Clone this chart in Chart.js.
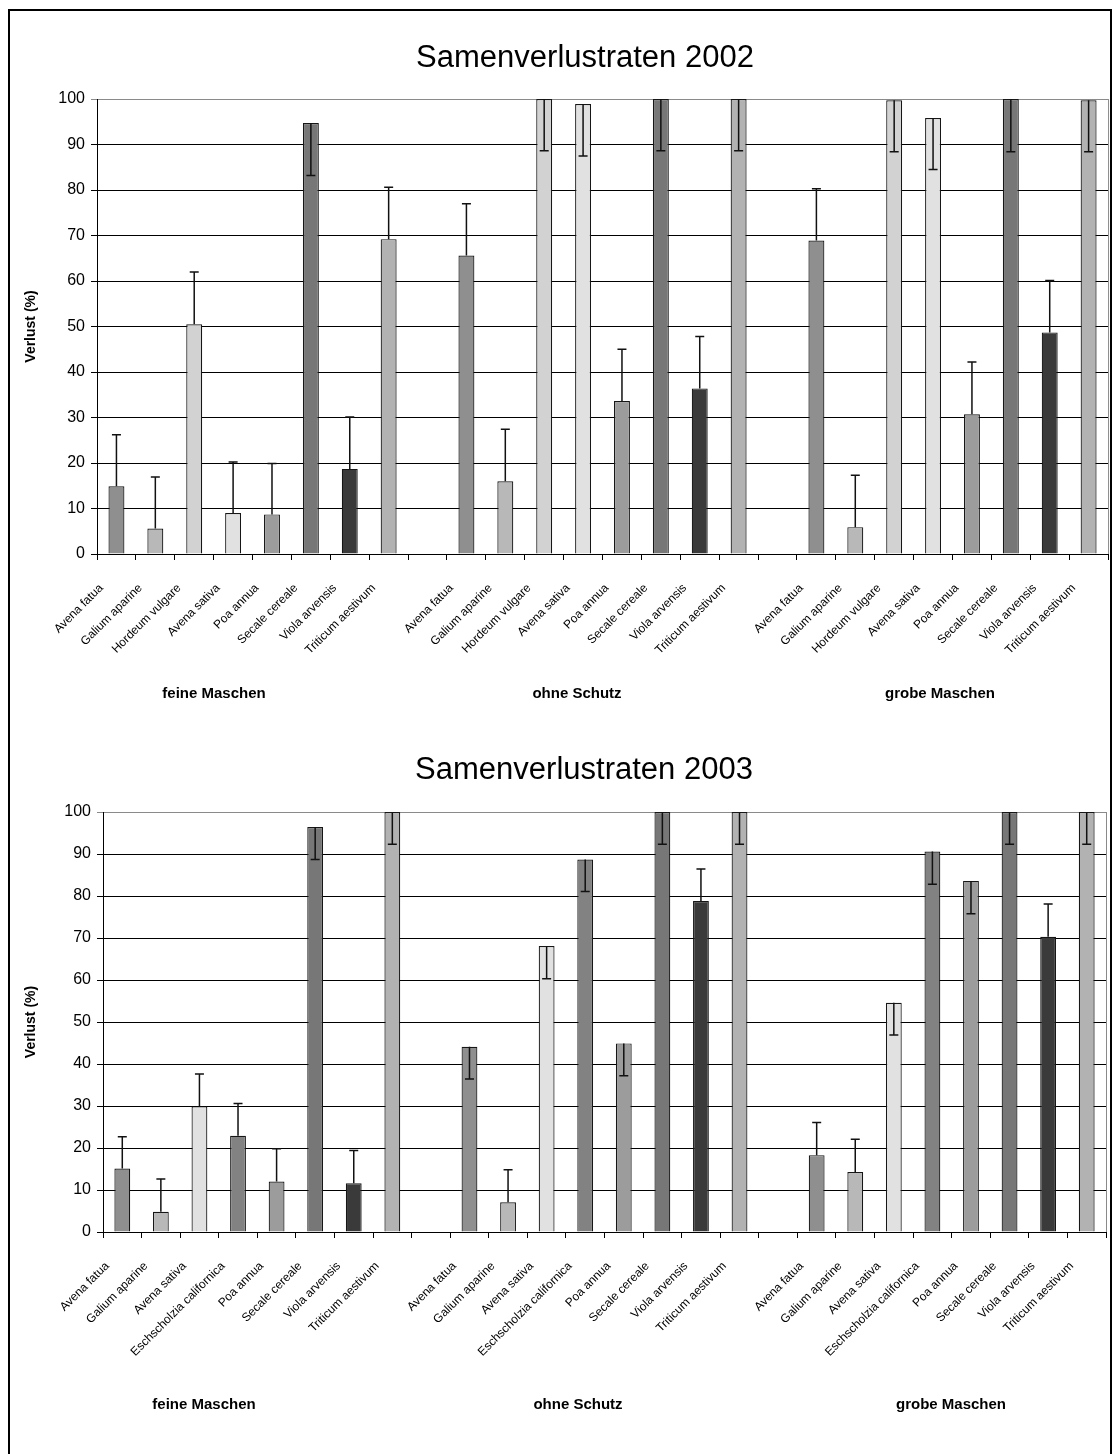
<!DOCTYPE html>
<html>
<head>
<meta charset="utf-8">
<title>Samenverlustraten</title>
<script src="https://cdn.jsdelivr.net/npm/chart.js@4.4.0/dist/chart.umd.min.js"></script>
<style>
    html, body { margin: 0; padding: 0; background: #fff; }
    body { width: 1120px; height: 1454px; position: relative; overflow: hidden; }
    canvas { position: absolute; left: 0; }
    #chart-2002 { top: 0; }
    #chart-2003 { top: 727px; }
    .frame {
        position: absolute; left: 8px; top: 9px;
        width: 1100px; height: 1460px;
        border: 2px solid #000; pointer-events: none;
    }
</style>
</head>
<body>
<canvas id="chart-2002" width="1120" height="727"></canvas>
<canvas id="chart-2003" width="1120" height="727"></canvas>
<div class="frame"></div>

<script>
// --- data ---
const groups = ["feine Maschen", "ohne Schutz", "grobe Maschen"];
const yTicks = [0, 10, 20, 30, 40, 50, 60, 70, 80, 90, 100];

const species2002 = ["Avena fatua", "Galium aparine", "Hordeum vulgare", "Avena sativa",
    "Poa annua", "Secale cereale", "Viola arvensis", "Triticum aestivum"];
const fein2002 = [14.9, 5.6, 50.5, 9.0, 8.7, 94.7, 18.7, 69.2];
const ohne2002 = [65.6, 16.0, 100, 98.9, 33.6, 100, 36.4, 100];
const grob2002 = [68.9, 5.9, 99.7, 95.8, 30.7, 100, 48.7, 99.7];
// error bars: positive = drawn upwards, negative = drawn downwards
const feinErr2002 = [11.3, 11.3, 11.5, 11.2, 11.2, -11.5, 11.4, 11.4];
const ohneErr2002 = [11.4, 11.4, -11.4, -11.4, 11.4, -11.4, 11.4, -11.4];
const grobErr2002 = [11.4, 11.4, -11.3, -11.3, 11.5, -11.6, 11.4, -11.3];

const species2003 = ["Avena fatua", "Galium aparine", "Avena sativa", "Eschscholzia californica",
    "Poa annua", "Secale cereale", "Viola arvensis", "Triticum aestivum"];
const fein2003 = [15.1, 4.8, 29.9, 22.9, 12.0, 96.4, 11.6, 100];
const ohne2003 = [44.1, 7.1, 68.1, 88.7, 44.9, 100, 78.8, 100];
const grob2003 = [18.3, 14.3, 54.6, 90.6, 83.6, 100, 70.3, 100];
const feinErr2003 = [7.6, 7.8, 7.7, 7.7, 7.8, -7.7, 7.8, -7.7];
const ohneErr2003 = [-7.7, 7.7, -7.8, -7.6, -7.7, -7.7, 7.6, -7.7];
const grobErr2003 = [7.8, 7.8, -7.7, -7.8, -7.8, -7.7, 7.8, -7.7];

// grey shade per species
const speciesColors = {
    "Avena fatua": "#8f8f8f",
    "Galium aparine": "#b8b8b8",
    "Hordeum vulgare": "#d2d2d2",
    "Avena sativa": "#e1e1e1",
    "Eschscholzia californica": "#828282",
    "Poa annua": "#9c9c9c",
    "Secale cereale": "#777777",
    "Viola arvensis": "#3a3a3a",
    "Triticum aestivum": "#b2b2b2",
};

const FONT = '"Liberation Sans", Arial, Helvetica, sans-serif';
Chart.defaults.font.family = FONT;
Chart.defaults.color = "#000";

function withGaps(a, b, c, gap) {
    return [...a, gap, ...b, gap, ...c];
}

const errorBarPlugin = {
    id: "errorBars",
    afterDatasetsDraw(chart, args, opts) {
        const { ctx } = chart;
        const meta = chart.getDatasetMeta(0);
        const yScale = chart.scales.y;
        const values = chart.data.datasets[0].data;

        ctx.save();
        ctx.strokeStyle = "#111";
        ctx.lineWidth = 1.5;
        opts.errors.forEach((err, i) => {
            if (err == null || values[i] == null) return;
            const x = meta.data[i].x;
            const target = values[i] + err;
            const clipped = target > yScale.max || target < yScale.min;
            const yFrom = yScale.getPixelForValue(values[i]);
            const yTo = yScale.getPixelForValue(Math.max(yScale.min, Math.min(yScale.max, target)));
            ctx.beginPath();
            ctx.moveTo(x, yFrom);
            ctx.lineTo(x, yTo);
            if (!clipped) {
                ctx.moveTo(x - 4.5, yTo);
                ctx.lineTo(x + 4.5, yTo);
            }
            ctx.stroke();
        });
        ctx.restore();
    },
};

const decorPlugin = {
    id: "decor",
    afterDraw(chart, args, opts) {
        const { ctx, chartArea } = chart;
        ctx.save();
        // plot area frame on the right
        ctx.strokeStyle = "#8a8a8a";
        ctx.lineWidth = 1;
        ctx.beginPath();
        ctx.moveTo(chartArea.right + 0.5, chartArea.top);
        ctx.lineTo(chartArea.right + 0.5, chartArea.bottom);
        ctx.stroke();

        ctx.fillStyle = "#000";
        ctx.textAlign = "center";
        ctx.textBaseline = "alphabetic";
        ctx.font = `31px ${FONT}`;
        ctx.fillText(opts.title, opts.titleX, opts.titleBaseline);

        ctx.textBaseline = "middle";
        ctx.font = `bold 15px ${FONT}`;
        groups.forEach((g, i) => {
            ctx.fillText(g, opts.groupX[i], opts.groupY);
        });
        ctx.restore();
    },
};

function drawChart(canvasId, setup) {
    const canvas = document.getElementById(canvasId);
    const labels = withGaps(setup.species, setup.species, setup.species, "");
    const values = withGaps(setup.fein, setup.ohne, setup.grob, null);
    const errors = withGaps(setup.feinErr, setup.ohneErr, setup.grobErr, null);
    const area = setup.area;

    new Chart(canvas, {
        type: "bar",
        data: {
            labels: labels,
            datasets: [
                {
                    data: values,
                    backgroundColor: labels.map((l) => speciesColors[l] || "#fff"),
                    borderColor: "#161616",
                    borderWidth: 1.2,
                    categoryPercentage: 1,
                    barPercentage: 0.41,
                },
            ],
        },
        options: {
            responsive: false,
            animation: false,
            devicePixelRatio: 1,
            layout: {
                padding: { top: area.top, right: canvas.width - area.right, left: 0, bottom: 0 },
            },
            plugins: {
                legend: { display: false },
                tooltip: { enabled: false },
                errorBars: { errors: errors },
                decor: {
                    title: setup.title,
                    titleX: setup.titleX,
                    titleBaseline: setup.titleBaseline,
                    groupX: setup.groupX,
                    groupY: setup.groupY,
                },
            },
            scales: {
                x: {
                    afterFit(scale) {
                        scale.height = canvas.height - area.bottom;
                    },
                    grid: {
                        offset: true,
                        drawOnChartArea: false,
                        tickLength: 6,
                        color: "#000",
                    },
                    border: { color: "#000", width: 1 },
                    ticks: {
                        autoSkip: false,
                        minRotation: 45,
                        maxRotation: 45,
                        padding: 21,
                        labelOffset: -15,
                        font: { size: 12 },
                        color: "#000",
                    },
                },
                y: {
                    min: 0,
                    max: 100,
                    afterFit(scale) {
                        scale.width = area.left;
                    },
                    afterBuildTicks(scale) {
                        scale.ticks = yTicks.map((v) => ({ value: v }));
                    },
                    grid: {
                        color: (ctx) => (ctx.tick && ctx.tick.value === 100 ? "#8a8a8a" : "#000"),
                        tickLength: 6,
                        lineWidth: 1,
                    },
                    border: { color: "#000", width: 1 },
                    ticks: {
                        padding: 6,
                        font: { size: 16 },
                        color: "#000",
                    },
                    title: {
                        display: true,
                        text: "Verlust (%)",
                        font: { size: 14, weight: "bold" },
                        color: "#000",
                        padding: { top: 23, bottom: 0 },
                    },
                },
            },
        },
        plugins: [errorBarPlugin, decorPlugin],
    });
}

drawChart("chart-2002", {
    species: species2002,
    fein: fein2002, ohne: ohne2002, grob: grob2002,
    feinErr: feinErr2002, ohneErr: ohneErr2002, grobErr: grobErr2002,
    title: "Samenverlustraten 2002",
    titleX: 585, titleBaseline: 67,
    groupX: [214, 577, 940], groupY: 694,
    area: { left: 97, right: 1109, top: 99, bottom: 554 },
});

drawChart("chart-2003", {
    species: species2003,
    fein: fein2003, ohne: ohne2003, grob: grob2003,
    feinErr: feinErr2003, ohneErr: ohneErr2003, grobErr: grobErr2003,
    title: "Samenverlustraten 2003",
    titleX: 584, titleBaseline: 52,
    groupX: [204, 578, 951], groupY: 678,
    area: { left: 103, right: 1106, top: 85, bottom: 505 },
});
</script>
</body>
</html>
